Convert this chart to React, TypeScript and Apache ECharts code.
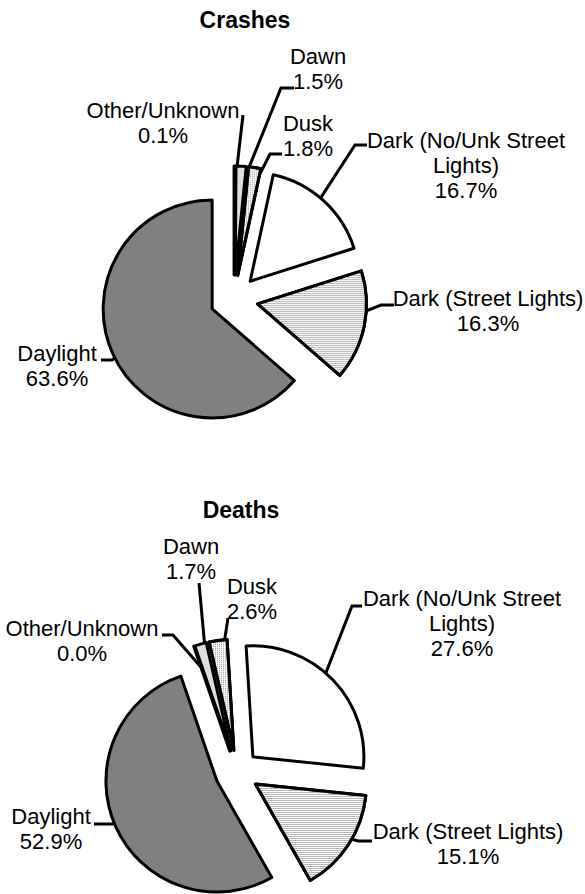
import React, { useEffect, useRef } from 'react';
import * as echarts from 'echarts';

// ---- data ----
const categories = ['Other/Unknown', 'Dawn', 'Dusk', 'Dark (No/Unk Street Lights)', 'Dark (Street Lights)', 'Daylight'];
const labelNames = ['Other/Unknown', 'Dawn', 'Dusk', 'Dark (No/Unk Street\nLights)', 'Dark (Street Lights)', 'Daylight'];
const crashesPct = [0.1, 1.5, 1.8, 16.7, 16.3, 63.6];
const deathsPct = [0.0, 1.7, 2.6, 27.6, 15.1, 52.9];
const chartTitles = ['Crashes', 'Deaths'];

// ---- styles / layout ----
const FONT = '"Liberation Sans", Arial, sans-serif';
const BORDER = { borderColor: '#000', borderWidth: 3 };
const sliceStyles: any[] = [
  { color: '#000000' },
  { color: '#dedede' },
  {
    color: '#ffffff',
    decal: { symbol: 'rect', symbolSize: 1, color: '#8a8a8a', backgroundColor: '#ffffff', dashArrayX: [1, 1], dashArrayY: [1, 1], rotation: 0 },
  },
  { color: '#ffffff' },
  {
    color: '#ffffff',
    decal: { symbol: 'rect', symbolSize: 1, color: '#b4b4b4', backgroundColor: '#ffffff', dashArrayX: [1, 0], dashArrayY: [1, 1], rotation: 0 },
  },
  { color: '#808080' },
];

// label block: [centerX, top]; line end relative to label: [dx, dy, stub]
const crashLabelPos = [[163, 98], [318, 43.5], [308, 110.5], [466, 127.5], [488, 286], [57, 340.5]];
const crashLineEnd = [[80, 17, 0], [-24, 44.5, -13], [-26, 43.5, -12], [-99, 17.5, -12], [-94, 19, -13], [44, 19.5, 11]];
const deathLabelPos = [[82, 615.5], [191, 533.5], [252, 573.5], [462, 585.5], [468, 818.5], [51, 803.5]];
const deathLineEnd = [[80, 19.5, 11], [8, 49.5, 0], [-24, 44.5, 0], [-100, 20.5, -10], [-96, 22.5, -14], [43, 20.5, 18]];

function pieSeries(
  name: string,
  values: number[],
  center: number[],
  radius: number,
  startAngle: number,
  offset: number,
) {
  return {
    type: 'pie',
    name,
    z: 3,
    center,
    radius,
    startAngle,
    clockwise: true,
    selectedMode: 'multiple',
    selectedOffset: offset,
    silent: true,
    emphasis: { disabled: true },
    label: { show: false },
    labelLine: { show: false },
    itemStyle: BORDER,
    data: values.map((v, i) => ({
      name: categories[i],
      value: v,
      selected: true,
      itemStyle: { ...sliceStyles[i], ...BORDER },
      select: { itemStyle: { ...sliceStyles[i], ...BORDER } },
    })),
  };
}

function labelSeries(
  name: string,
  values: number[],
  center: number[],
  radius: number,
  startAngle: number,
  pos: number[][],
  ends: number[][],
) {
  return {
    type: 'pie',
    name: name + ' labels',
    z: 2,
    center,
    radius,
    startAngle,
    clockwise: true,
    silent: true,
    avoidLabelOverlap: false,
    emphasis: { disabled: true },
    itemStyle: { color: 'rgba(0,0,0,0)', borderWidth: 0 },
    label: {
      show: true,
      position: 'outside',
      color: '#000',
      fontFamily: FONT,
      fontSize: 22,
      lineHeight: 25,
      align: 'center',
    },
    labelLine: { show: true, length: 10, length2: 10, lineStyle: { color: '#000', width: 3 } },
    labelLayout: (p: any) => {
      const i = p.dataIndex;
      const [cx, top] = pos[i];
      const [dx, dy, stub] = ends[i];
      const end = [cx + dx, top + dy];
      const elbow = [end[0] + stub, end[1]];
      const start = p.labelLinePoints ? p.labelLinePoints[0] : elbow;
      return {
        x: cx,
        y: top,
        align: 'center',
        verticalAlign: 'top',
        labelLinePoints: [start, elbow, end],
      };
    },
    data: values.map((v, i) => ({
      name: categories[i],
      value: v,
      label: { formatter: labelNames[i] + '\n' + v.toFixed(1) + '%' },
    })),
  };
}

export default function App() {
  const ref = useRef<HTMLDivElement>(null);
  useEffect(() => {
    if (!ref.current) return;
    const chart = echarts.init(ref.current, undefined, { renderer: 'svg' });
    chart.setOption({
      animation: false,
      backgroundColor: '#ffffff',
      graphic: [
        { type: 'text', x: 245, y: 20, style: { text: chartTitles[0], align: 'center', verticalAlign: 'middle', font: `bold 23px ${FONT}`, fill: '#000' } },
        { type: 'text', x: 241, y: 510, style: { text: chartTitles[1], align: 'center', verticalAlign: 'middle', font: `bold 23px ${FONT}`, fill: '#000' } },
      ],
      series: [
        labelSeries(chartTitles[0], crashesPct, [234, 299], 109, 90, crashLabelPos, crashLineEnd),
        pieSeries(chartTitles[0], crashesPct, [234, 299], 109, 90, 24),
        labelSeries(chartTitles[1], deathsPct, [237, 772], 111, 109, deathLabelPos, deathLineEnd),
        pieSeries(chartTitles[1], deathsPct, [237, 772], 111, 109, 22),
      ],
    });
    return () => chart.dispose();
  }, []);
  return <div ref={ref} style={{ position: 'absolute', left: 0, top: 0, width: 585, height: 894 }} />;
}
